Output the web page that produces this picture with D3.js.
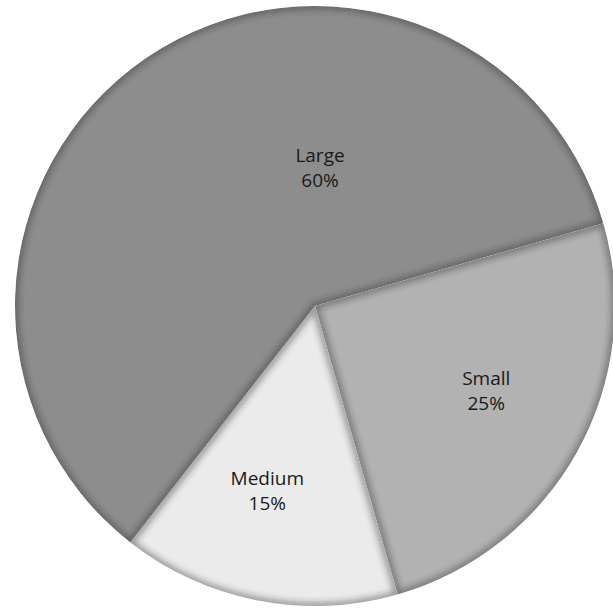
<!DOCTYPE html>
<html>
<head>
<meta charset="UTF-8">
<title>Pie</title>
<script src="https://d3js.org/d3.v7.min.js"></script>
<style>
  body { margin: 0; padding: 0; background: #fff; }
  #chart { width: 613px; height: 609px; overflow: hidden; }
  .label { font-family: "Open Sans", sans-serif; font-size: 19px; fill: #1a1a1a; }
</style>
</head>
<body>
<div id="chart"></div>
<script>
  // slice data, clockwise from the Small slice
  const categories = ["Small", "Medium", "Large"];
  const shares = [25, 15, 60];
  const fills = ["#b2b2b2", "#ebebeb", "#8d8d8d"];

  const width = 613, height = 609;
  const cx = 315, cy = 306, radius = 300;

  const svg = d3.select("#chart").append("svg")
      .attr("width", width)
      .attr("height", height);

  const defs = svg.append("defs");
  defs.append("filter").attr("id", "soft")
      .attr("x", "-10%").attr("y", "-10%").attr("width", "120%").attr("height", "120%")
    .append("feGaussianBlur").attr("stdDeviation", 3);

  const pie = d3.pie().sort(null).value(d => d.value)
      .startAngle(74 * Math.PI / 180)
      .endAngle(74 * Math.PI / 180 + 2 * Math.PI);

  const data = categories.map((c, i) => ({ name: c, value: shares[i], color: fills[i] }));
  const arcs = pie(data);

  const arc = d3.arc().innerRadius(0).outerRadius(radius);

  const g = svg.append("g").attr("transform", `translate(${cx},${cy})`);

  arcs.forEach((d, i) => {
    defs.append("clipPath").attr("id", "clip" + i)
      .append("path").attr("d", arc(d));
  });

  const slices = g.selectAll(".slice")
    .data(arcs)
    .enter().append("g")
      .attr("class", "slice")
      .attr("clip-path", (d, i) => `url(#clip${i})`);

  slices.append("path")
      .attr("d", arc)
      .attr("fill", d => d.data.color);

  // darker inner edge along every slice border
  slices.append("path")
      .attr("d", arc)
      .attr("fill", "none")
      .attr("stroke", "#2a2a2a")
      .attr("stroke-opacity", 0.45)
      .attr("stroke-width", 7)
      .attr("filter", "url(#soft)");

  // label spot: small slices sit ~0.635r out, nudged a little toward the big slice
  function labelPos(d, i) {
    if (d.endAngle - d.startAngle > Math.PI) {
      return [5, -radius * 0.463];
    }
    const mid = (d.startAngle + d.endAngle) / 2 + (i === 0 ? -3 : 3.5) * Math.PI / 180;
    const r = radius * 0.635;
    return [Math.sin(mid) * r, -Math.cos(mid) * r];
  }

  const labels = g.selectAll(".label")
    .data(arcs)
    .enter().append("text")
      .attr("class", "label")
      .attr("text-anchor", "middle")
      .attr("transform", (d, i) => {
        const p = labelPos(d, i);
        return `translate(${p[0]},${p[1]})`;
      });

  labels.append("tspan").attr("x", 0).attr("y", -5).text(d => d.data.name);
  labels.append("tspan").attr("x", 0).attr("y", 20).text(d => d.data.value + "%");
</script>
</body>
</html>
